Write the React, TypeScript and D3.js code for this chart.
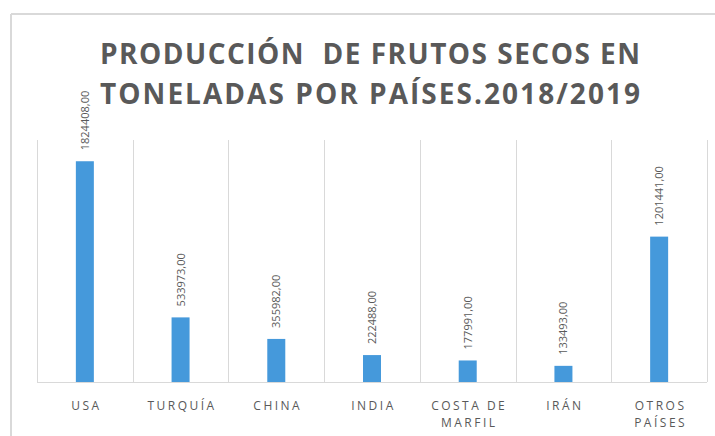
import { useEffect, useRef } from 'react';
import * as d3 from 'd3';

const categories = ['USA', 'TURQUÍA', 'CHINA', 'INDIA', 'COSTA DE MARFIL', 'IRÁN', 'OTROS PAÍSES'];
const categoryLines = [['USA'], ['TURQUÍA'], ['CHINA'], ['INDIA'], ['COSTA DE', 'MARFIL'], ['IRÁN'], ['OTROS', 'PAÍSES']];
const values = [1824408, 533973, 355982, 222488, 177991, 133493, 1201441];
const titleLines = ['PRODUCCIÓN  DE FRUTOS SECOS EN', 'TONELADAS POR PAÍSES.2018/2019'];

export default function App() {
  const svgRef = useRef<SVGSVGElement>(null);

  useEffect(() => {
    if (!svgRef.current) return;
    const width = 715;
    const height = 436;
    const plot = { left: 37, right: 707, top: 140, bottom: 382 };
    const textColor = '#595959';
    const gridColor = '#d9d9d9';

    const svg = d3.select(svgRef.current);
    svg.selectAll('*').remove();
    svg.attr('width', width).attr('height', height);

    svg.append('rect').attr('width', width).attr('height', height).attr('fill', '#fff');

    // chart frame (only left and top visible in the crop)
    svg.append('line')
      .attr('x1', 11).attr('x2', width).attr('y1', 14).attr('y2', 14)
      .attr('stroke', gridColor).attr('stroke-width', 2);
    svg.append('line')
      .attr('x1', 11).attr('x2', 11).attr('y1', 14).attr('y2', height)
      .attr('stroke', gridColor).attr('stroke-width', 2);

    const x = d3.scaleBand<string>()
      .domain(categories)
      .range([plot.left, plot.right])
      .padding(0);

    const y = d3.scaleLinear()
      .domain([0, 2000000])
      .range([plot.bottom, plot.top]);

    const data = categories.map((c, i) => ({ category: c, value: values[i], lines: categoryLines[i] }));

    // vertical separators between categories
    const bounds = categories.map(c => x(c) || 0).concat([plot.right]);
    svg.append('g')
      .selectAll('line')
      .data(bounds)
      .join('line')
      .attr('x1', d => Math.round(d) + 0.5)
      .attr('x2', d => Math.round(d) + 0.5)
      .attr('y1', plot.top)
      .attr('y2', plot.bottom)
      .attr('stroke', gridColor)
      .attr('stroke-width', 1);

    svg.append('line')
      .attr('x1', plot.left).attr('x2', plot.right)
      .attr('y1', plot.bottom + 0.5).attr('y2', plot.bottom + 0.5)
      .attr('stroke', gridColor).attr('stroke-width', 1);

    const barW = 18;
    svg.append('g')
      .selectAll('rect')
      .data(data)
      .join('rect')
      .attr('x', d => (x(d.category) || 0) + x.bandwidth() / 2 - barW / 2)
      .attr('y', d => y(d.value))
      .attr('width', barW)
      .attr('height', d => y(0) - y(d.value))
      .attr('fill', '#4599db');

    // value labels, rotated
    svg.append('g')
      .selectAll('text')
      .data(data)
      .join('text')
      .attr('transform', d => `translate(${(x(d.category) || 0) + x.bandwidth() / 2 + 4},${y(d.value) - 11}) rotate(-90)`)
      .attr('text-anchor', 'start')
      .style('font-family', '"Open Sans", "Liberation Sans", sans-serif')
      .style('font-size', '11px')
      .style('fill', textColor)
      .text(d => d.value.toFixed(2).replace('.', ','));

    // category labels
    const cat = svg.append('g')
      .selectAll('text')
      .data(data)
      .join('text')
      .attr('text-anchor', 'middle')
      .style('font-family', '"Open Sans", "Liberation Sans", sans-serif')
      .style('font-size', '12px')
      .style('letter-spacing', '2.5px')
      .style('fill', textColor);
    cat.selectAll('tspan')
      .data(d => d.lines.map((l, i) => ({ l, i, cx: (x(d.category) || 0) + x.bandwidth() / 2 })))
      .join('tspan')
      .attr('x', d => d.cx + 1.5)
      .attr('y', d => 410 + d.i * 17)
      .text(d => d.l);

    // title
    svg.append('g')
      .selectAll('text')
      .data(titleLines)
      .join('text')
      .attr('x', 370)
      .attr('y', (d, i) => 64 + i * 40)
      .attr('text-anchor', 'middle')
      .attr('textLength', 540)
      .attr('lengthAdjust', 'spacing')
      .style('white-space', 'pre')
      .style('font-family', '"Open Sans", "Liberation Sans", sans-serif')
      .style('font-weight', 700)
      .style('font-size', '28px')
      .style('fill', textColor)
      .text(d => d);
  }, []);

  return (
    <div style={{ position: 'absolute', left: 0, top: 0 }}>
      <svg ref={svgRef}></svg>
    </div>
  );
}
